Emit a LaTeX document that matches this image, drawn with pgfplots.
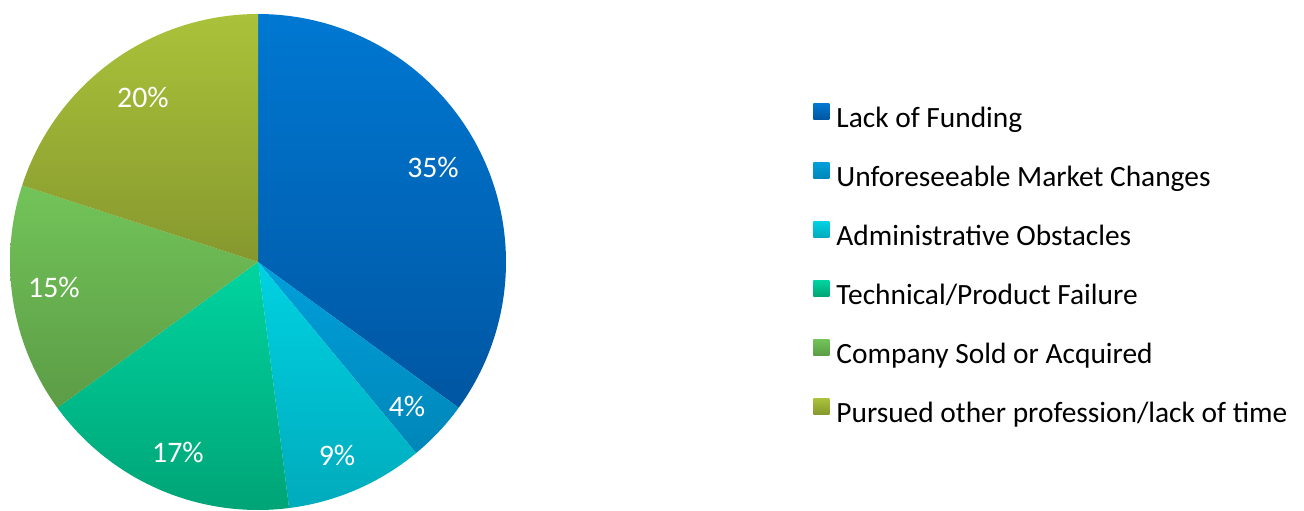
\documentclass[border=0pt]{standalone}
\usepackage{fontspec}
\setmainfont{Carlito}
\usepackage{pgfplots}
\pgfplotsset{compat=1.18}

% slice colours: top / bottom of the vertical gradient
\definecolor{fundT}{HTML}{0078D2}\definecolor{fundB}{HTML}{0056A2}
\definecolor{markT}{HTML}{00A0DC}\definecolor{markB}{HTML}{0086B8}
\definecolor{admT}{HTML}{00D2E2}\definecolor{admB}{HTML}{00ABBC}
\definecolor{techT}{HTML}{00D4A0}\definecolor{techB}{HTML}{00A476}
\definecolor{soldT}{HTML}{72C459}\definecolor{soldB}{HTML}{5C9C46}
\definecolor{profT}{HTML}{AAC23A}\definecolor{profB}{HTML}{86982E}

\newcommand{\sq}[2]{\shade[top color=#1, bottom color=#2] (0pt,0.5pt) rectangle (8pt,8.5pt); \path (11.5pt,0pt);}

\begin{document}
\begin{tikzpicture}
\begin{axis}[
    scale only axis,
    width=652pt, height=255pt,
    xmin=0, xmax=1304, ymin=0, ymax=510,
    hide axis, clip=false,
    legend cell align=left,
    legend style={draw=none, fill=none,
        at={(axis cs:807,411)}, anchor=north west,
        font=\fontsize{14.7}{17}\selectfont,
        row sep=14pt,
        nodes={inner sep=0pt, text height=10.5pt, text depth=3.5pt}},
]
% pie centre (258,248), radius 248; 35, 4, 9, 17, 15, 20 percent clockwise from the top
\addplot[draw=none, top color=fundT, bottom color=fundB, domain=-36:90, samples=90, variable=\t,
    legend image code/.code={\sq{fundT}{fundB}}]
    ({258+248*cos(t)},{248+248*sin(t)}) -- (axis cs:258,248) -- cycle;
\addlegendentry{Lack of Funding}
\addplot[draw=none, top color=markT, bottom color=markB, domain=-50.4:-36, samples=15, variable=\t,
    legend image code/.code={\sq{markT}{markB}}]
    ({258+248*cos(t)},{248+248*sin(t)}) -- (axis cs:258,248) -- cycle;
\addlegendentry{Unforeseeable Market Changes}
\addplot[draw=none, top color=admT, bottom color=admB, domain=-82.8:-50.4, samples=30, variable=\t,
    legend image code/.code={\sq{admT}{admB}}]
    ({258+248*cos(t)},{248+248*sin(t)}) -- (axis cs:258,248) -- cycle;
\addlegendentry{Administrative Obstacles}
\addplot[draw=none, top color=techT, bottom color=techB, domain=-144:-82.8, samples=50, variable=\t,
    legend image code/.code={\sq{techT}{techB}}]
    ({258+248*cos(t)},{248+248*sin(t)}) -- (axis cs:258,248) -- cycle;
\addlegendentry{Technical/Product Failure}
\addplot[draw=none, top color=soldT, bottom color=soldB, domain=-198:-144, samples=45, variable=\t,
    legend image code/.code={\sq{soldT}{soldB}}]
    ({258+248*cos(t)},{248+248*sin(t)}) -- (axis cs:258,248) -- cycle;
\addlegendentry{Company Sold or Acquired}
\addplot[draw=none, top color=profT, bottom color=profB, domain=-270:-198, samples=60, variable=\t,
    legend image code/.code={\sq{profT}{profB}}]
    ({258+248*cos(t)},{248+248*sin(t)}) -- (axis cs:258,248) -- cycle;
\addlegendentry{Pursued other profession/lack of time}

% percentage labels
\addplot[draw=none, mark=none, forget plot,
    nodes near coords, point meta=explicit symbolic,
    nodes near coords style={text=white, anchor=center, inner sep=0pt,
        font=\fontsize{14.9}{17}\selectfont}]
    coordinates {
    (433,343) [35\%]
    (407,104) [4\%]
    (337,55)  [9\%]
    (178,58)  [17\%]
    (54,223)  [15\%]
    (143,413) [20\%]
    };
\end{axis}
\pgfresetboundingbox
\path (current axis.south west) rectangle (current axis.north east);
\end{tikzpicture}
\end{document}
